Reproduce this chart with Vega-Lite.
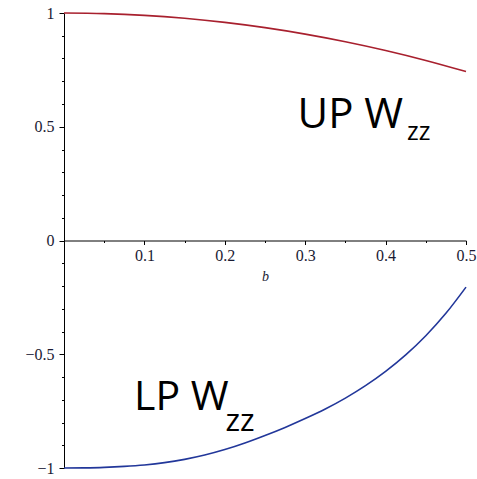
{
  "$schema": "https://vega.github.io/schema/vega-lite/v6.json",
  "autosize": {"type": "none"},
  "width": 402,
  "height": 455,
  "padding": {"left": 64, "top": 13, "right": 11, "bottom": 11},
  "background": "white",
  "config": {"view": {"stroke": null}},
  "resolve": {"scale": {"y": "shared", "x": "shared"}, "axis": {"y": "independent"}},
  "datasets": {
    "curves": [
      {"b": 0, "w": 1, "s": "UP"},
      {"b": 0.05, "w": 0.9974, "s": "UP"},
      {"b": 0.1, "w": 0.9897, "s": "UP"},
      {"b": 0.15, "w": 0.9768, "s": "UP"},
      {"b": 0.2, "w": 0.9588, "s": "UP"},
      {"b": 0.25, "w": 0.9356, "s": "UP"},
      {"b": 0.3, "w": 0.9073, "s": "UP"},
      {"b": 0.35, "w": 0.8738, "s": "UP"},
      {"b": 0.4, "w": 0.8352, "s": "UP"},
      {"b": 0.45, "w": 0.7914, "s": "UP"},
      {"b": 0.5, "w": 0.7425, "s": "UP"},
      {"b": 0, "w": -1, "s": "LP"},
      {"b": 0.025, "w": -0.9993, "s": "LP"},
      {"b": 0.05, "w": -0.9972, "s": "LP"},
      {"b": 0.075, "w": -0.993, "s": "LP"},
      {"b": 0.1, "w": -0.9865, "s": "LP"},
      {"b": 0.125, "w": -0.9765, "s": "LP"},
      {"b": 0.15, "w": -0.962, "s": "LP"},
      {"b": 0.175, "w": -0.943, "s": "LP"},
      {"b": 0.2, "w": -0.919, "s": "LP"},
      {"b": 0.225, "w": -0.89, "s": "LP"},
      {"b": 0.25, "w": -0.857, "s": "LP"},
      {"b": 0.275, "w": -0.8215, "s": "LP"},
      {"b": 0.3, "w": -0.7826, "s": "LP"},
      {"b": 0.325, "w": -0.7406, "s": "LP"},
      {"b": 0.35, "w": -0.6928, "s": "LP"},
      {"b": 0.375, "w": -0.6382, "s": "LP"},
      {"b": 0.4, "w": -0.5754, "s": "LP"},
      {"b": 0.425, "w": -0.5028, "s": "LP"},
      {"b": 0.45, "w": -0.4185, "s": "LP"},
      {"b": 0.475, "w": -0.3202, "s": "LP"},
      {"b": 0.5, "w": -0.205, "s": "LP"}
    ],
    "mainLabels": [
      {"b": 0.2905, "w": 0.4945, "t": "UP W"}
    ],
    "mainLabels2": [
      {"b": 0.0871, "w": -0.7468, "t": "LP W"}
    ],
    "subLabels": [
      {"b": 0.4266, "w": 0.443, "t": "zz"}
    ],
    "subLabels2": [
      {"b": 0.2009, "w": -0.839, "t": "zz"}
    ]
  },
  "layer": [
    {
      "data": {"name": "curves"},
      "mark": {"type": "line", "strokeWidth": 1.6, "interpolate": "monotone"},
      "encoding": {
        "x": {
          "field": "b", "type": "quantitative",
          "scale": {"domain": [0, 0.5], "nice": false, "zero": false},
          "axis": {
            "orient": "bottom",
            "offset": -227.5,
            "values": [0.05, 0.1, 0.15, 0.2, 0.25, 0.3, 0.35, 0.4, 0.45, 0.5],
            "format": "~g",
            "labelExpr": "round(datum.value*100) % 10 === 0 ? datum.label : ''",
            "grid": false,
            "domainColor": "black",
            "domainWidth": 1,
            "tickColor": "black",
            "tickWidth": 1,
            "tickSize": {"condition": {"test": "round(datum.value*100) % 10 === 0", "value": 4}, "value": 2},
            "labelFont": "Liberation Serif",
            "labelFontSize": 16,
            "labelColor": "#1a1a33",
            "labelPadding": 3,
            "labelFlush": false,
            "labelOverlap": false,
            "title": "b",
            "titleFont": "Liberation Serif",
            "titleFontStyle": "italic",
            "titleFontWeight": "normal",
            "titleFontSize": 14,
            "titleColor": "#1a1a33",
            "titlePadding": 6
          }
        },
        "y": {
          "field": "w", "type": "quantitative",
          "scale": {"domain": [-1, 1], "nice": false, "zero": false},
          "axis": {
            "orient": "left",
            "values": [-1, -0.5, 0, 0.5, 1],
            "format": "~g",
            "grid": false,
            "domainColor": "black",
            "domainWidth": 1,
            "tickColor": "black",
            "tickWidth": 1,
            "tickSize": 5,
            "labelFont": "Liberation Serif",
            "labelFontSize": 16,
            "labelColor": "#1a1a33",
            "labelPadding": 5,
            "labelFlush": false,
            "labelOverlap": false,
            "title": null
          }
        },
        "color": {
          "field": "s", "type": "nominal",
          "scale": {"domain": ["UP", "LP"], "range": ["#a8202e", "#22379a"]},
          "legend": null
        }
      }
    },
    {
      "data": {"name": "mainLabels"},
      "mark": {"type": "text", "font": "Open Sans", "fontSize": 42, "align": "left", "baseline": "alphabetic", "color": "black"},
      "encoding": {
        "x": {"field": "b", "type": "quantitative"},
        "y": {
          "field": "w", "type": "quantitative",
          "axis": {
            "orient": "left",
            "values": [-0.9, -0.8, -0.7, -0.6, -0.4, -0.3, -0.2, -0.1, 0.1, 0.2, 0.3, 0.4, 0.6, 0.7, 0.8, 0.9],
            "labels": false,
            "domain": false,
            "grid": false,
            "tickColor": "black",
            "tickWidth": 1,
            "tickSize": 2.5,
            "title": null
          }
        },
        "text": {"field": "t"}
      }
    },
    {
      "data": {"name": "mainLabels2"},
      "mark": {"type": "text", "font": "Open Sans", "fontSize": 41, "align": "left", "baseline": "alphabetic", "color": "black"},
      "encoding": {
        "x": {"field": "b", "type": "quantitative"},
        "y": {"field": "w", "type": "quantitative", "axis": null},
        "text": {"field": "t"}
      }
    },
    {
      "data": {"name": "subLabels"},
      "mark": {"type": "text", "font": "Open Sans", "fontSize": 25, "align": "left", "baseline": "alphabetic", "color": "black"},
      "encoding": {
        "x": {"field": "b", "type": "quantitative"},
        "y": {"field": "w", "type": "quantitative", "axis": null},
        "text": {"field": "t"}
      }
    },
    {
      "data": {"name": "subLabels2"},
      "mark": {"type": "text", "font": "Open Sans", "fontSize": 31, "align": "left", "baseline": "alphabetic", "color": "black"},
      "encoding": {
        "x": {"field": "b", "type": "quantitative"},
        "y": {"field": "w", "type": "quantitative", "axis": null},
        "text": {"field": "t"}
      }
    }
  ]
}
